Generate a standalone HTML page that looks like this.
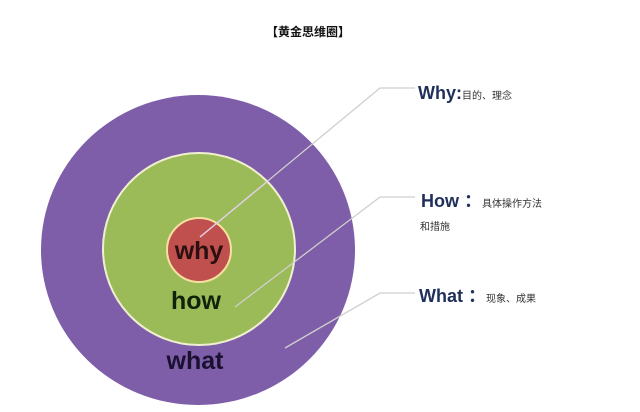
<!DOCTYPE html>
<html><head><meta charset="utf-8"><style>
body{margin:0;background:#fff;}
</style></head><body>
<svg width="640" height="412" viewBox="0 0 640 412" xmlns="http://www.w3.org/2000/svg" style="display:block">
<rect width="640" height="412" fill="#fff"/>
<text x="308" y="36" text-anchor="middle" font-family="Liberation Sans, Noto Sans CJK SC, sans-serif" font-size="12" font-weight="bold" fill="#111">【黄金思维圈】</text>
<ellipse cx="198" cy="250" rx="157" ry="155" fill="#7e5ea8"/>
<circle cx="199" cy="249" r="96" fill="#9bbb59" stroke="#f0f0d0" stroke-width="2"/>
<circle cx="199" cy="250" r="32" fill="#c0504d" stroke="#f5e0a0" stroke-width="2"/>
<g stroke="#cfcfcf" stroke-width="1.3" fill="none">
<polyline points="200,237 380,88 415,88" />
<polyline points="235,307 380,197 415,197"/>
<polyline points="285,348 380,293 415,293"/>
</g>
<g stroke="#e8d0f0" stroke-width="1.3" fill="none" opacity="0.8">
<line x1="200" y1="237" x2="268" y2="181"/>
</g>
<g font-family="Liberation Sans, sans-serif" font-weight="bold" text-anchor="middle">
<text x="199" y="259" font-size="25" fill="#2a1010">why</text>
<text x="196" y="309" font-size="25" fill="#10220a">how</text>
<text x="195" y="369" font-size="25" fill="#1a1030">what</text>
</g>
<g font-family="Liberation Sans, Noto Sans CJK SC, sans-serif" fill="#1f2f5a">
<text x="418" y="99" font-size="18" font-weight="bold">Why:<tspan font-size="10" font-weight="normal" fill="#333">目的、理念</tspan></text>
<text x="421" y="207" font-size="18" font-weight="bold">How ：<tspan font-size="10" font-weight="normal" fill="#333">具体操作方法</tspan></text>
<text x="420" y="230" font-size="10" fill="#333">和措施</text>
<text x="419" y="302" font-size="18" font-weight="bold">What ：<tspan font-size="10" font-weight="normal" fill="#333">现象、成果</tspan></text>
</g>
</svg>
</body></html>
